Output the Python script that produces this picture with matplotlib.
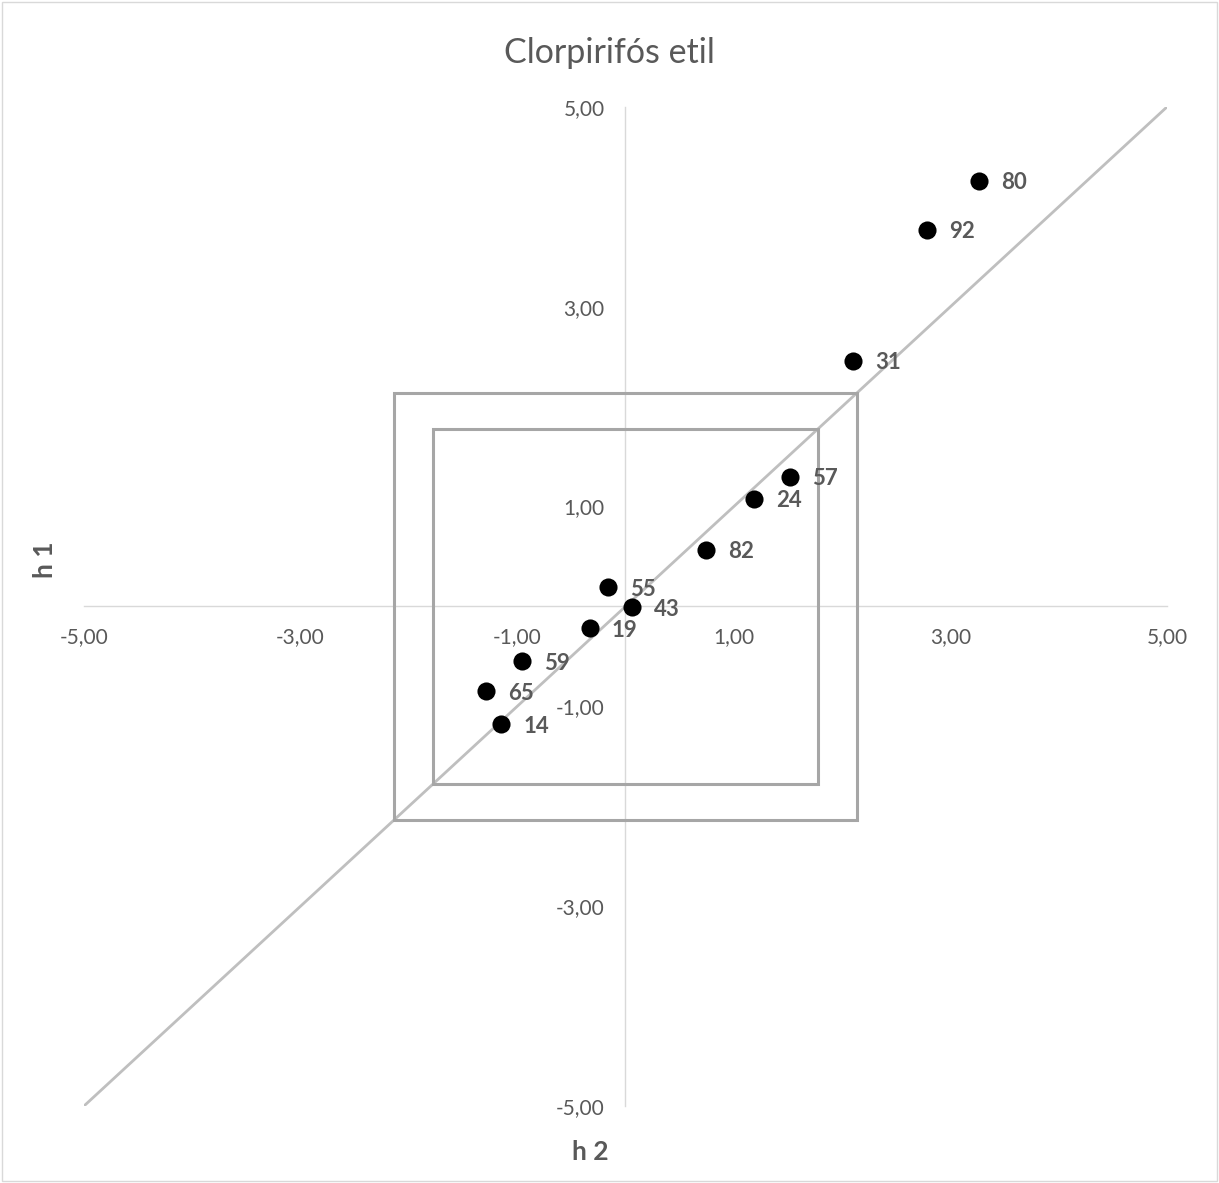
import numpy as np
import matplotlib
matplotlib.use("Agg")
from matplotlib import pyplot as plt
from matplotlib.patches import Rectangle
from matplotlib.ticker import FixedLocator, FuncFormatter

plt.rcParams['font.family'] = ['Lato', 'DejaVu Sans']

# lab codes and their z-scores (h2 on x, h1 on y)
labs = ['80', '92', '31', '57', '24', '82', '55', '43', '19', '59', '65', '14']
h2 = [3.26, 2.78, 2.10, 1.52, 1.19, 0.74, -0.16, 0.06, -0.33, -0.96, -1.29, -1.15]
h1 = [4.26, 3.77, 2.46, 1.30, 1.08, 0.57, 0.19, -0.01, -0.22, -0.55, -0.85, -1.18]

# limit boxes (half-widths)
outer_lim = 2.14
inner_lim = 1.78

ticks = [-5, -3, -1, 1, 3, 5]
axis_range = [-5, 5]

txt_gray = '#595959'

fig = plt.figure(figsize=(12.19, 11.83), dpi=100)
ax = fig.add_axes([0.0689, 0.0651, 0.8884, 0.8445])
ax.set_xlim(axis_range)
ax.set_ylim(axis_range)

for side in ['top', 'right']:
    ax.spines[side].set_visible(False)
for side in ['left', 'bottom']:
    ax.spines[side].set_position('zero')
    ax.spines[side].set_color('#d9d9d9')
    ax.spines[side].set_linewidth(1.0)

fmt = FuncFormatter(lambda v, p: '{:.2f}'.format(v).replace('.', ','))
ax.xaxis.set_major_locator(FixedLocator(ticks))
ax.yaxis.set_major_locator(FixedLocator(ticks))
ax.xaxis.set_major_formatter(fmt)
ax.yaxis.set_major_formatter(fmt)
ax.tick_params(axis='x', length=0, pad=15, labelsize=15, labelcolor=txt_gray)
ax.tick_params(axis='y', length=0, pad=15, labelsize=15, labelcolor=txt_gray)

# diagonal reference line
ax.plot(axis_range, axis_range, color='#bfbfbf', lw=2.0, zorder=2, solid_capstyle='butt')

# limit squares
for lim in [outer_lim, inner_lim]:
    ax.add_patch(Rectangle((-lim, -lim), 2 * lim, 2 * lim, fill=False,
                           edgecolor='#a6a6a6', lw=2.2, zorder=3))

ax.scatter(h2, h1, s=170, color='black', zorder=5, linewidths=0)
for name, x, y in zip(labs, h2, h1):
    ax.annotate(name, (x, y), xytext=(16, -1.5), textcoords='offset points',
                ha='left', va='center', fontsize=16, fontweight='bold',
                color=txt_gray, zorder=6)

fig.text(0.5, 0.955, 'Clorpirifós etil', ha='center', va='center',
         fontsize=24.5, color=txt_gray)
fig.text(0.037, 0.527, 'h 1', ha='center', va='center', rotation=90,
         fontsize=19, fontweight='bold', color=txt_gray)
fig.text(0.484, 0.026, 'h 2', ha='center', va='center',
         fontsize=19, fontweight='bold', color=txt_gray)

# chart frame
fig.patches.append(Rectangle((0.002, 0.002), 0.996, 0.996, transform=fig.transFigure,
                             fill=False, edgecolor='#d9d9d9', lw=1.0))

fig.savefig('out.png', dpi=100)
